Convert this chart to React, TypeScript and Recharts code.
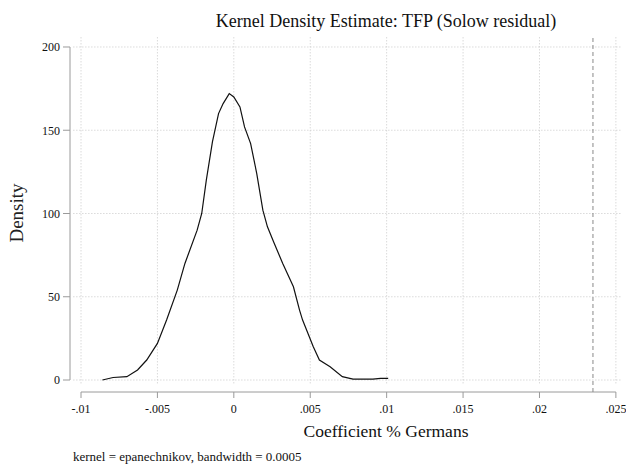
import React from 'react';
import { LineChart, Line, XAxis, YAxis, ReferenceLine } from 'recharts';

// kernel density curve
const densityX = [
  -0.0086, -0.0079, -0.007, -0.0063, -0.0057, -0.005, -0.0044, -0.0037, -0.0032, -0.0024,
  -0.0021, -0.0018, -0.0014, -0.001, -0.0007, -0.0003, 0, 0.0004, 0.0007, 0.0011,
  0.0015, 0.0019, 0.0022, 0.0026, 0.0032, 0.0039, 0.0043, 0.0045, 0.0052, 0.0056,
  0.0063, 0.0071, 0.0078, 0.0091, 0.0096, 0.0101,
];
const densityY = [
  0, 1.5, 2, 6, 12, 22, 36, 54, 70, 90,
  100, 120, 143, 160, 166, 172, 170, 164, 152, 142,
  124, 102, 92, 83, 70, 56, 42, 36, 20, 12,
  8, 2, 0.5, 0.5, 1, 1,
];

const xTicks = [-0.01, -0.005, 0, 0.005, 0.01, 0.015, 0.02, 0.025];
const xTickLabels = ['-.01', '-.005', '0', '.005', '.01', '.015', '.02', '.025'];
const yTicks = [0, 50, 100, 150, 200];
const markerX = 0.0235;

const title = 'Kernel Density Estimate: TFP (Solow residual)';
const xTitle = 'Coefficient % Germans';
const yTitle = 'Density';
const note = 'kernel = epanechnikov, bandwidth = 0.0005';

const data = densityX.map((x, i) => ({ x, y: densityY[i] }));

const X_MIN = -0.01072;
const X_MAX = 0.0254;
const Y_MIN = -7.2;
const Y_MAX = 206;

const FONT = '"Liberation Serif", "Times New Roman", serif';
const GRID = '#c8c8c8';
const AXIS = '#9a9a9a';

export default function App() {
  const fmtX = (v: number) => {
    const i = xTicks.findIndex((t) => Math.abs(t - v) < 1e-9);
    return i >= 0 ? xTickLabels[i] : String(v);
  };

  return (
    <div style={{ position: 'absolute', left: 0, top: 0, width: 626, height: 466, background: '#fff', fontFamily: FONT }}>
      <LineChart width={626} height={466} data={data} margin={{ top: 37, right: 4, bottom: 44, left: 0 }}>
        <XAxis
          type="number"
          dataKey="x"
          domain={[X_MIN, X_MAX]}
          allowDataOverflow
          ticks={xTicks}
          tickFormatter={fmtX}
          axisLine={false}
          tickLine={{ stroke: AXIS }}
          tickSize={6}
          tickMargin={6}
          height={30}
          tick={{ fontSize: 12, fill: '#111', fontFamily: FONT }}
          interval={0}
        />
        <YAxis
          type="number"
          domain={[Y_MIN, Y_MAX]}
          allowDataOverflow
          ticks={yTicks}
          axisLine={false}
          tickLine={{ stroke: AXIS }}
          tickSize={7}
          tickMargin={3}
          width={70}
          tick={{ fontSize: 12, fill: '#111', fontFamily: FONT }}
          interval={0}
        />
        {yTicks.map((t) => (
          <ReferenceLine
            key={'h' + t}
            segment={[{ x: -0.0105, y: t }, { x: 0.0253, y: t }]}
            stroke={GRID}
            strokeDasharray="1 2"
            ifOverflow="visible"
          />
        ))}
        {xTicks.map((t) => (
          <ReferenceLine
            key={'v' + t}
            segment={[{ x: t, y: -2 }, { x: t, y: 206 }]}
            stroke={GRID}
            strokeDasharray="1 2"
            ifOverflow="visible"
          />
        ))}
        <ReferenceLine segment={[{ x: X_MIN, y: 0 }, { x: X_MIN, y: 200 }]} stroke={AXIS} ifOverflow="visible" />
        <ReferenceLine segment={[{ x: -0.01, y: Y_MIN }, { x: 0.025, y: Y_MIN }]} stroke={AXIS} ifOverflow="visible" />
        <ReferenceLine
          segment={[{ x: markerX, y: Y_MIN }, { x: markerX, y: Y_MAX }]}
          stroke="#888"
          strokeDasharray="4 3"
          ifOverflow="visible"
        />
        <Line
          type="linear"
          dataKey="y"
          stroke="#111"
          strokeWidth={1.2}
          dot={false}
          isAnimationActive={false}
        />
      </LineChart>
      <div style={{ position: 'absolute', left: 186, width: 400, top: 11, textAlign: 'center', fontSize: 18, color: '#111', whiteSpace: 'nowrap' }}>
        {title}
      </div>
      <div style={{ position: 'absolute', left: 236, width: 300, top: 421, textAlign: 'center', fontSize: 17.5, color: '#111', whiteSpace: 'nowrap' }}>
        {xTitle}
      </div>
      <div
        style={{
          position: 'absolute',
          left: 17,
          top: 213,
          transform: 'translate(-50%, -50%) rotate(-90deg)',
          fontSize: 19,
          color: '#222',
          whiteSpace: 'nowrap',
        }}
      >
        {yTitle}
      </div>
      <div style={{ position: 'absolute', left: 73, top: 449, fontSize: 13, color: '#111', whiteSpace: 'nowrap' }}>
        {note}
      </div>
    </div>
  );
}
